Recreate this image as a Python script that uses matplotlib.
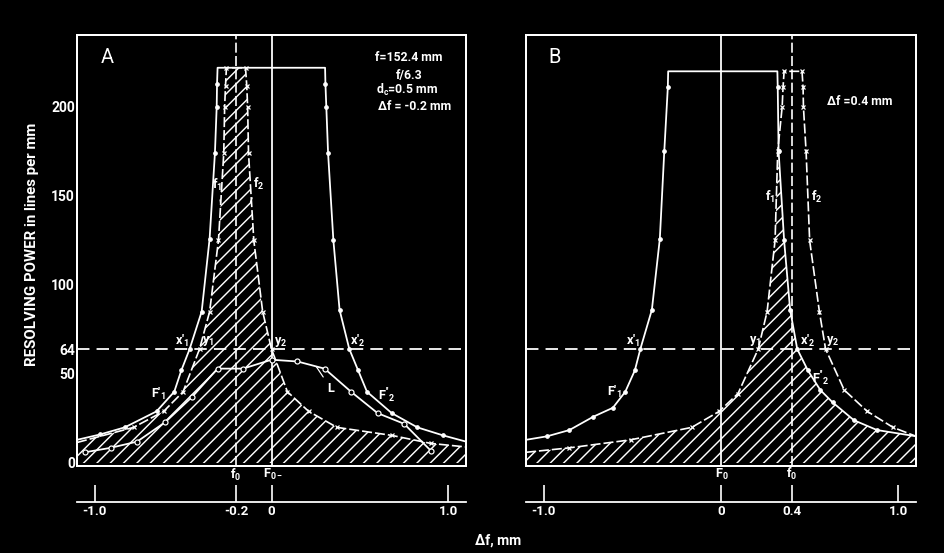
import numpy as np
import matplotlib
matplotlib.use("Agg")
import matplotlib.pyplot as plt

# Panel A (df = -0.2 mm): outer curve F, crossed curve f, open-circle curve L
a_F_x = [-1.10, -0.97, -0.83, -0.65, -0.55, -0.51, -0.463, -0.395, -0.35, -0.32, -0.31, -0.308, -0.305,
         0.303, 0.305, 0.31, 0.32, 0.35, 0.385, 0.44, 0.49, 0.54, 0.68, 0.825, 0.97, 1.10]
a_F_y = [13, 16, 20, 29, 40, 52, 64, 85, 126, 174, 200, 213, 222,
         222, 213, 200, 174, 125, 86, 64, 52, 40, 28, 20, 15.5, 12]
a_f_x = [-1.10, -0.78, -0.61, -0.50, -0.407, -0.35, -0.30, -0.27, -0.265, -0.26, -0.255,
         -0.147, -0.14, -0.135, -0.13, -0.10, -0.05, 0.0, 0.09, 0.21, 0.37, 0.68, 0.90, 1.10]
a_f_y = [11.5, 20, 29, 40, 64, 85, 125, 174, 200, 212, 222,
         222, 212, 200, 174, 125, 85, 64, 40, 29, 20, 15.5, 11, 9]
a_L_x = [-1.056, -0.91, -0.76, -0.60, -0.45, -0.305, -0.16, 0.0, 0.147, 0.30, 0.45, 0.60, 0.75, 0.90]
a_L_y = [6, 8.5, 12, 23, 37, 53, 53, 58, 57, 53, 40, 28, 22, 7]

# Panel B (df = 0.4 mm)
b_F_x = [-1.10, -0.98, -0.855, -0.72, -0.61, -0.54, -0.486, -0.455, -0.39, -0.345, -0.32, -0.30, -0.298,
         0.318, 0.32, 0.325, 0.356, 0.39, 0.43, 0.49, 0.56, 0.63, 0.75, 0.88, 1.10]
b_F_y = [13, 15, 18.5, 26, 31, 40, 52, 64, 86, 126, 175, 211, 220,
         220, 211, 175, 125, 86, 64, 52, 41, 34, 24, 18.5, 15]
b_f_x = [-1.10, -0.855, -0.51, -0.165, -0.01, 0.096, 0.21, 0.26, 0.305, 0.32, 0.345, 0.35, 0.356,
         0.457, 0.463, 0.465, 0.48, 0.50, 0.555, 0.59, 0.695, 0.825, 0.97, 1.10]
b_f_y = [6, 8.5, 13, 20, 29, 39, 64, 85, 125, 175, 200, 211, 220,
         220, 211, 200, 175, 125, 85, 64, 41, 29, 20, 15]

yticks = [0, 50, 64, 100, 150, 200]
a_xticks = [-1.0, -0.2, 0, 1.0]
a_xlabels = ["-1.0", "-0.2", "0", "1.0"]
b_xticks = [-1.0, 0, 0.4, 1.0]
b_xlabels = ["-1.0", "0", "0.4", "1.0"]

plt.rcParams["font.family"] = ["Roboto", "DejaVu Sans"]
plt.rcParams["font.weight"] = "bold"
plt.rcParams["mathtext.fontset"] = "custom"
plt.rcParams["mathtext.rm"] = "Roboto:bold"
plt.rcParams["mathtext.it"] = "Roboto:bold"
plt.rcParams["mathtext.bf"] = "Roboto:bold"
plt.rcParams["mathtext.default"] = "rm"
plt.rcParams["hatch.linewidth"] = 1.3
plt.rcParams["hatch.color"] = "white"

W = "white"
DPI = 80
fig = plt.figure(figsize=(944 / DPI, 553 / DPI), dpi=DPI, facecolor="black")


def setup_box(left, width):
    ax = fig.add_axes([left / 944, 1 - 466 / 553, width / 944, 431 / 553])
    ax.set_facecolor("black")
    ax.set_xlim(-1.1, 1.1)
    ax.set_ylim(-1.7, 240.4)
    for s in ax.spines.values():
        s.set_color(W)
        s.set_linewidth(1.8)
    ax.set_xticks([])
    ax.tick_params(axis="y", length=0, pad=2, colors=W, labelsize=12.5)
    ax.axhline(64, color=W, lw=1.6, dashes=(7, 4), zorder=3)
    return ax


def setup_xaxis(left, width, ticks, labels):
    axx = fig.add_axes([left / 944, 1 - 502 / 553, width / 944, 0.001])
    axx.set_xlim(-1.1, 1.1)
    axx.patch.set_alpha(0)
    for k in ["top", "left", "right"]:
        axx.spines[k].set_visible(False)
    axx.spines["bottom"].set_color(W)
    axx.spines["bottom"].set_linewidth(1.6)
    axx.set_yticks([])
    axx.set_xticks(ticks)
    axx.set_xticklabels(labels)
    axx.tick_params(axis="x", direction="in", length=15, width=1.5, colors=W, pad=3, labelsize=12)


def draw_curves(ax, Fx, Fy, fx, fy):
    xs = np.linspace(-1.1, 1.1, 3000)
    top = np.minimum(np.interp(xs, Fx, Fy), np.interp(xs, fx, fy))
    ax.fill_between(xs, 0, top, facecolor="none", edgecolor=W, hatch="//", lw=0, zorder=1)
    nF = len(Fx)
    F_marks = [i for i in range(1, nF - 1) if Fy[i] != max(Fy)]
    ax.plot(Fx, Fy, color=W, lw=1.6, marker="o", ms=3.2, markevery=F_marks, zorder=4)
    ax.plot(fx, fy, color=W, lw=1.5, dashes=(6, 1.8), marker="x", ms=4, mew=1.1,
            markevery=list(range(1, len(fx) - 1)), zorder=4)


def label(ax, x, y, s, size=11.5, ha="center"):
    ax.text(x, y, s, color=W, fontsize=size, ha=ha, va="center", zorder=6, clip_on=False)


# ---- panel A ----
axA = setup_box(77, 389)
axA.set_yticks(yticks)
axA.set_yticklabels([str(v) for v in yticks])
axA.axvline(0, color=W, lw=1.6, zorder=2)
axA.axvline(-0.2, color=W, lw=1.5, dashes=(6, 2), zorder=2)
draw_curves(axA, a_F_x, a_F_y, a_f_x, a_f_y)
axA.plot(a_L_x, a_L_y, color=W, lw=1.6, marker="o", ms=4.5, mfc="black", mew=1.1, zorder=5)
setup_xaxis(77, 389, a_xticks, a_xlabels)

axA.text(-0.93, 228, "A", color=W, fontsize=18, fontweight="normal", ha="center", va="center")
label(axA, 0.585, 228, "f=152.4 mm", 11, "left")
label(axA, 0.705, 217.4, "f/6.3", 11, "left")
label(axA, 0.59, 209.4, "d$_c$=0.5 mm", 11, "left")
label(axA, 0.60, 200.5, "\u0394f = -0.2 mm", 11, "left")
label(axA, -0.508, 68.5, r"x$'_1$")
label(axA, -0.36, 68.5, r"y$_1$")
label(axA, 0.05, 68, r"y$_2$")
label(axA, 0.49, 68.5, r"x$'_2$")
label(axA, -0.638, 39, r"F$'_1$")
label(axA, 0.65, 38, r"F$''_2$")
label(axA, -0.203, -6.7, r"f$_0$")
label(axA, 0.01, -6.7, r"F$_{0-}$")
axA.annotate("L", xy=(0.254, 54), xytext=(0.335, 42), color=W, fontsize=11.5, ha="center", va="center",
             arrowprops=dict(arrowstyle="-", color=W, lw=1.1, shrinkA=3, shrinkB=0))
axA.annotate(r"f$_1$", xy=(-0.288, 146), xytext=(-0.305, 156), color=W, fontsize=11.5, ha="center",
             va="center", arrowprops=dict(arrowstyle="-", color=W, lw=1.1, shrinkA=4, shrinkB=0))
axA.annotate(r"f$_2$", xy=(-0.119, 146.6), xytext=(-0.075, 157), color=W, fontsize=11.5, ha="center",
             va="center", arrowprops=dict(arrowstyle="-", color=W, lw=1.1, shrinkA=4, shrinkB=0))

# ---- panel B ----
axB = setup_box(526, 390)
axB.set_yticks([])
axB.axvline(0, color=W, lw=1.6, zorder=2)
axB.axvline(0.4, color=W, lw=1.5, dashes=(6, 2), zorder=2)
draw_curves(axB, b_F_x, b_F_y, b_f_x, b_f_y)
setup_xaxis(526, 390, b_xticks, b_xlabels)

axB.text(-0.938, 228, "B", color=W, fontsize=18, fontweight="normal", ha="center", va="center")
label(axB, 0.60, 203, "\u0394f =0.4 mm", 11, "left")
label(axB, -0.497, 68.5, r"x$'_1$")
label(axB, -0.60, 40, r"F$'_1$")
label(axB, 0.19, 68.5, r"y$_1$")
label(axB, 0.49, 68.5, r"x$'_2$")
label(axB, 0.63, 68.5, r"y$_2$")
label(axB, 0.56, 48, r"F$''_2$")
label(axB, 0.277, 149.4, r"f$_1$")
label(axB, 0.542, 149.4, r"f$_2$")
label(axB, 0.006, -6.4, r"F$_0$")
label(axB, 0.40, -6.4, r"f$_0$")

fig.text(32 / 944, 1 - 244 / 553, "RESOLVING POWER in lines per mm", color=W, fontsize=13.5,
         rotation=90, ha="center", va="center")
fig.text(498 / 944, 1 - 541 / 553, "\u0394f, mm", color=W, fontsize=12.5, ha="center", va="center")

fig.savefig("out.png", dpi=DPI, facecolor="black")
